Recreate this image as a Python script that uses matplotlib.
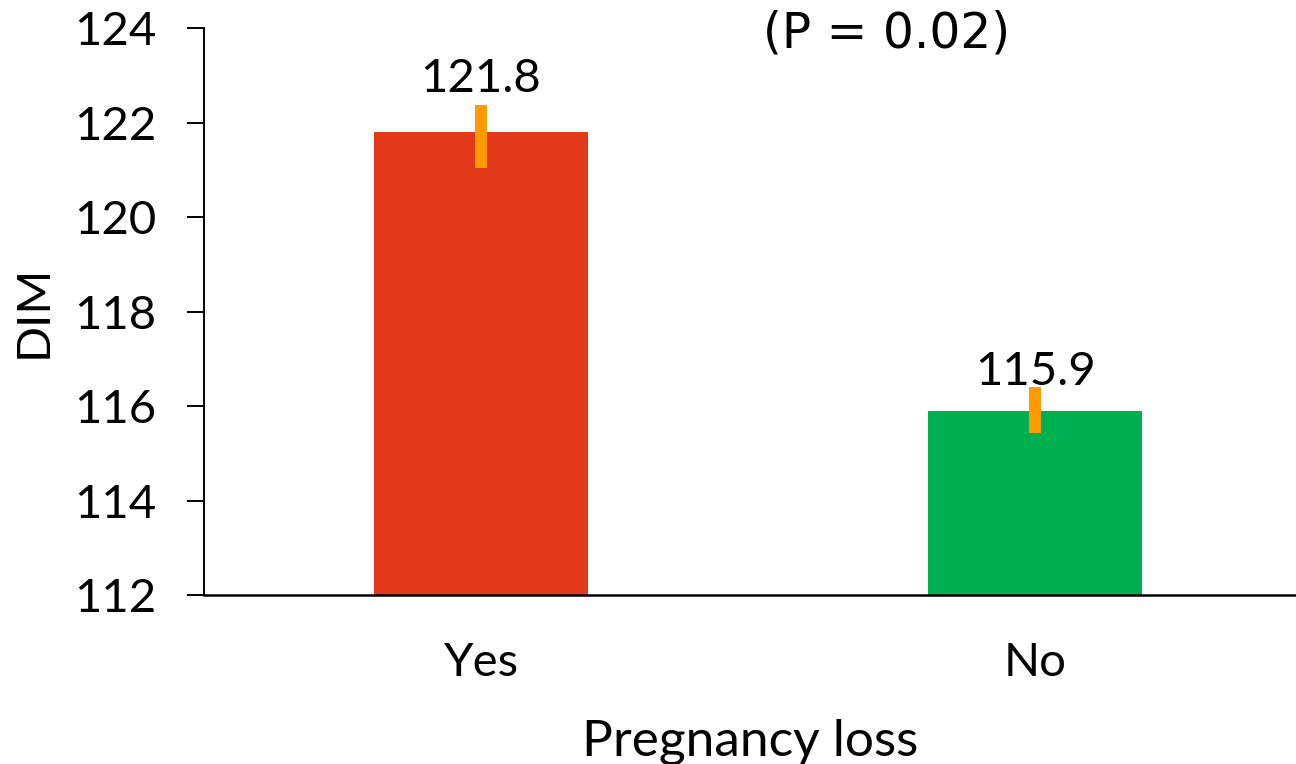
import matplotlib
matplotlib.use("Agg")
import matplotlib.pyplot as plt

categories = ["Yes", "No"]
dim_means = [121.8, 115.9]
err_lower = [0.75, 0.48]
err_upper = [0.58, 0.50]
bar_colors = ["#E2391A", "#00B050"]
label_offset = [0.85, 0.55]
p_text = "(P = 0.02)"

plt.rcParams["font.family"] = ["Lato", "DejaVu Sans"]

fig = plt.figure(figsize=(12.96, 7.64), dpi=100)
ax = fig.add_axes([0.1574, 0.2212, 0.8426, 0.7418])

x = list(range(len(categories)))
ax.bar(x, dim_means, width=0.386, color=bar_colors, zorder=2)
ax.errorbar(x, dim_means, yerr=[err_lower, err_upper], fmt="none",
            ecolor="#FF9A00", elinewidth=8.6, capsize=0, zorder=3)

for xi, v, off in zip(x, dim_means, label_offset):
    ax.text(xi, v + off, f"{v:.1f}", ha="center", va="baseline", fontsize=34, zorder=4)

ax.set_ylim(112, 124)
ax.set_xlim(-0.5, 1.471)
ax.set_yticks(range(112, 125, 2))
ax.set_xticks(x)
ax.set_xticklabels(categories)

for s in ["top", "right"]:
    ax.spines[s].set_visible(False)
ax.spines["left"].set_linewidth(1.4)
ax.spines["bottom"].set_linewidth(1.8)

ax.tick_params(axis="y", direction="out", length=12.2, width=1.4, labelsize=34, pad=22)
ax.tick_params(axis="x", length=0, labelsize=34, pad=34)

ax.set_ylabel("DIM", fontsize=34, labelpad=14)
ax.set_xlabel("Pregnancy loss", fontsize=37, labelpad=25)

# p-value note, wide sans face
fig.text(887 / 1296, 1 - 48 / 764, p_text, ha="center", va="baseline",
         fontsize=35, family=["DejaVu Sans"])

fig.savefig("out.png", dpi=100)
